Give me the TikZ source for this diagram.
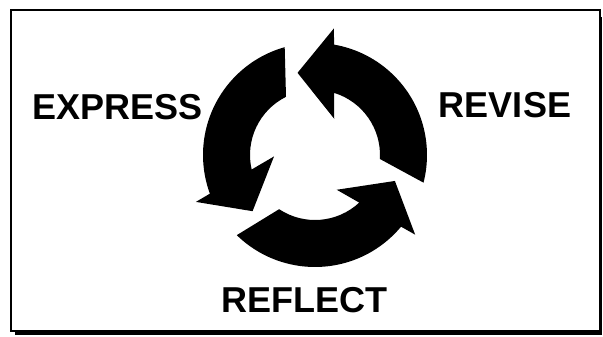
\documentclass[tikz,border=0pt]{standalone}
\usepackage{fontspec}
\setmainfont{Liberation Sans}
\usetikzlibrary{positioning}

\begin{document}
\begin{tikzpicture}[
    x=1pt,
    y=1pt,
    stage/.style={
        font=\fontsize{36}{36}\selectfont\bfseries,
        inner sep=0pt,
        anchor=base
    },
    cyclearrow/.style={
        fill=black,
        draw=none
    },
    frame/.style={
        draw=black,
        line width=2pt
    }
]
    \useasboundingbox (0,0) rectangle (603,337);
    \fill [white] (0,0) rectangle (603,337);
    \draw [frame] (10.5,6) rectangle (600,327);
    \fill (15,1.5) rectangle (602,6.5);
    \fill (598.5,1.5) rectangle (602,320);

    \coordinate (hub) at (315,182);
    \foreach \rot in {0,120,240} {
        \begin{scope}[shift={(hub)}, rotate=\rot]
            \fill [cyclearrow] (105.7:112) arc[start angle=105.7, end angle=200.2, radius=112]
                -- (201.5:128) -- (222:84) -- (182:41) -- (192.9:65)
                arc[start angle=192.9, end angle=116.5, radius=65] -- cycle;
        \end{scope}
    }

    \node [stage] (express) at (117.5,217) {EXPRESS};
    \node [stage] (revise) at (505,219) {REVISE};
    \node [stage] (reflect) at (304.5,24) {REFLECT};
\end{tikzpicture}
\end{document}
